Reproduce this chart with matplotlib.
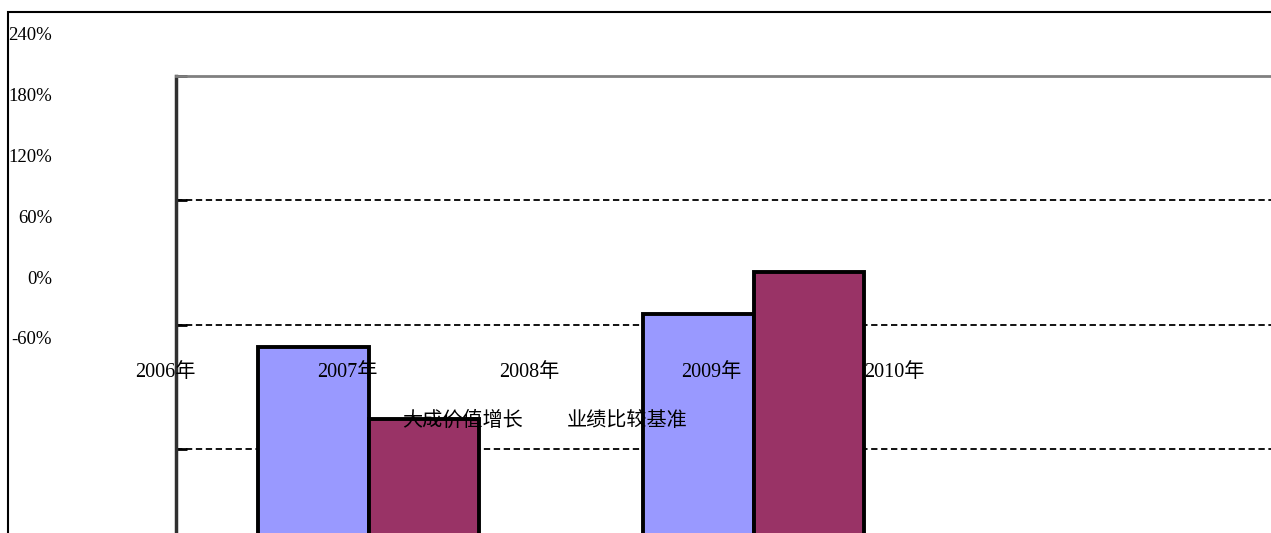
import numpy as np
import matplotlib
matplotlib.use("Agg")
import matplotlib.pyplot as plt
from matplotlib.patches import Rectangle

plt.rcParams['font.family'] = ['Liberation Serif', 'Noto Sans CJK SC']
plt.rcParams['font.size'] = 14.5

# data
years = ['2006年', '2007年', '2008年', '2009年', '2010年']
outer_ticks = [-60, 0, 60, 120, 180, 240]
outer_labels = ['-60%', '0%', '60%', '120%', '180%', '240%']
series_names = ['大成价值增长', '业绩比较基准']
fund_growth = [109.1, 125.1]
benchmark = [74.4, 145.3]
inner_ticks = [0, 60, 120, 180, 240]

W, H = 1271, 533
fig = plt.figure(figsize=(W / 100, H / 100), dpi=100)


def px_box(left, top, right, bottom):
    return [left / W, 1 - bottom / H, (right - left) / W, (bottom - top) / H]


# outer chart frame
fig.add_artist(Rectangle((8 / W, -0.2), 1.5, 1 - 12 / H + 0.2, transform=fig.transFigure,
                         fill=False, edgecolor='black', linewidth=1.5))

# inner plot area
ax = fig.add_axes(px_box(176, 76, 1331, 573))
x = np.arange(len(fund_growth))
bw = 0.288
b1 = ax.bar(x - bw / 2, fund_growth, bw, color='#9999FF', edgecolor='black', linewidth=2.8,
            label=series_names[0])
b2 = ax.bar(x + bw / 2, benchmark, bw, color='#993366', edgecolor='black', linewidth=2.8,
            label=series_names[1])
ax.set_xlim(-0.5, 2.5)
ax.set_ylim(0, 240)
ax.set_yticks(inner_ticks)
ax.set_yticklabels([])
ax.set_xticks([])
ax.tick_params(axis='y', direction='in', length=8, width=2, color='black')
ax.set_axisbelow(True)
ax.yaxis.grid(True, color='black', linestyle=(0, (3.5, 2)), linewidth=1.3)
ax.spines['left'].set_color('#303030')
ax.spines['left'].set_linewidth(2.5)
ax.spines['top'].set_color('#808080')
ax.spines['top'].set_linewidth(2)
ax.spines['right'].set_visible(False)
ax.spines['bottom'].set_visible(False)

leg = ax.legend(ncol=2, handlelength=0, handletextpad=0, frameon=False, columnspacing=2.2,
                loc='center left', bbox_to_anchor=(402 / W, 1 - 421 / H),
                bbox_transform=fig.transFigure, borderaxespad=0, borderpad=0)
for h in leg.legend_handles:
    h.set_visible(False)

# outer value axis labels
ax_out = fig.add_axes(px_box(55, 34, 55.1, 338))
ax_out.set_ylim(-60, 240)
ax_out.set_yticks(outer_ticks)
ax_out.set_yticklabels(outer_labels)
ax_out.tick_params(axis='y', length=0, pad=2, labelsize=13.5)
ax_out.set_xticks([])
ax_out.patch.set_visible(False)
for s in ax_out.spines.values():
    s.set_visible(False)

# category labels
ax_cat = fig.add_axes(px_box(74, 363, 985, 363.1))
ax_cat.set_xlim(-0.5, len(years) - 0.5)
ax_cat.set_xticks(range(len(years)))
ax_cat.set_xticklabels(years)
ax_cat.tick_params(axis='x', length=0, pad=0)
ax_cat.set_yticks([])
ax_cat.patch.set_visible(False)
for s in ax_cat.spines.values():
    s.set_visible(False)

fig.savefig('out.png', dpi=100)
